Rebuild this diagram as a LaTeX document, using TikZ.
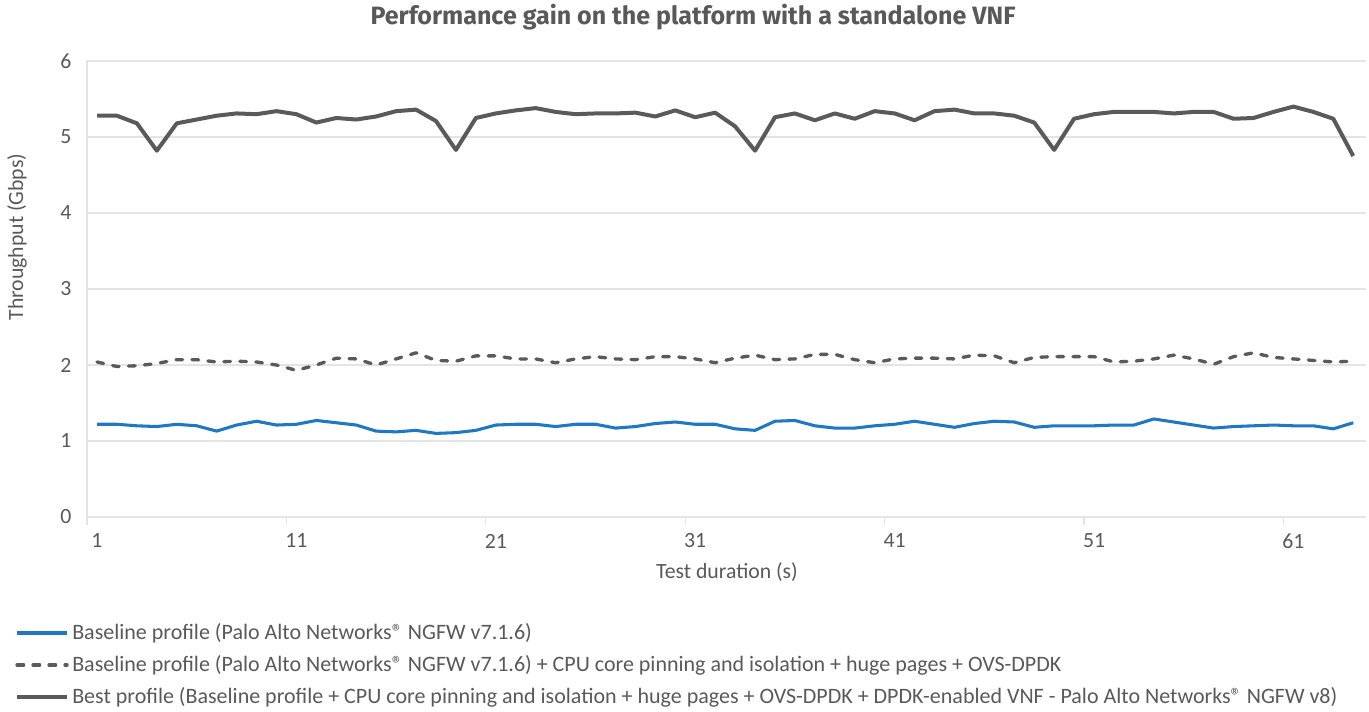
\documentclass[tikz,border=0pt]{standalone}
\usepackage{fontspec}
\setmainfont{Carlito}
\newfontfamily\headfont{Fira Sans}
\definecolor{textgray}{HTML}{595959}
\definecolor{gridgray}{HTML}{E4E4E4}
\definecolor{baseblue}{HTML}{1F78C4}
\definecolor{darkline}{HTML}{5A5A5A}
\begin{document}
\begin{tikzpicture}[x=0.75pt,y=-0.75pt,
  axtext/.style={text=textgray,inner sep=0pt,font=\fontsize{16.3}{18}\selectfont},
  legtext/.style={text=textgray,inner sep=0pt,anchor=west,font=\fontsize{16.5}{18}\selectfont},
  gridline/.style={draw=gridgray,line width=0.8pt},
  baseline/.style={draw=baseblue,line width=2.3pt,line join=round},
  tuned/.style={draw=darkline,line width=2.5pt,line join=round,line cap=round,dash pattern=on 5pt off 7pt},
  best/.style={draw=darkline,line width=3pt,line join=round}]
  \useasboundingbox (0,0) rectangle (1369,712);
  % texts
  \node[text=textgray,font=\headfont\bfseries\fontsize{18.8}{20}\selectfont] at(693,17)(title){Performance gain on the platform with a standalone VNF};
  \node[axtext,rotate=90] at(17,237)(ytitle){Throughput (Gbps)};
  \node[axtext] at(727,572)(xtitle){Test duration (s)};
  % grid and axes
  \foreach \v in {1,...,6}
    \draw[gridline] (87,517-76*\v) -- (1366,517-76*\v);
  \draw[gridline] (87,61) -- (87,517);
  \draw[gridline] (87,517) -- (1366,517);
  \foreach \v in {0,...,6}
    \node[axtext] at(66,517-76*\v)(ylbl\v){\v};
  \foreach \k [evaluate=\k as \n using int(10*\k+1)] in {0,...,6}{
    \draw[gridline] (87+199.4*\k,517) -- (87+199.4*\k,525);
    \node[axtext] at(97+199.4*\k,541)(xlbl\k){\n};
  }
  % data lines
  \begin{scope}[shift={(97,517)},xscale=19.94,yscale=76]
    \draw[baseline] (0,-1.22) \foreach \v [count=\i] in {1.22,1.20,1.19,1.22,1.20,1.13,1.21,1.26,1.21,1.22,1.27,1.24,1.21,1.13,1.12,1.14,1.10,1.11,1.14,1.21,1.22,1.22,1.19,1.22,1.22,1.17,1.19,1.23,1.25,1.22,1.22,1.16,1.14,1.26,1.27,1.20,1.17,1.17,1.20,1.22,1.26,1.22,1.18,1.23,1.26,1.25,1.18,1.20,1.20,1.20,1.21,1.21,1.29,1.25,1.21,1.17,1.19,1.20,1.21,1.20,1.20,1.16,1.24}{ -- (\i,-\v) };
    \draw[tuned] (0,-2.04) \foreach \v [count=\i] in {1.98,1.99,2.02,2.07,2.07,2.04,2.05,2.04,2.00,1.93,2.00,2.09,2.08,2.00,2.08,2.16,2.06,2.05,2.12,2.12,2.08,2.08,2.03,2.08,2.11,2.08,2.07,2.11,2.11,2.08,2.03,2.09,2.13,2.07,2.08,2.14,2.14,2.07,2.03,2.08,2.09,2.09,2.08,2.13,2.12,2.03,2.10,2.11,2.11,2.11,2.04,2.05,2.08,2.13,2.08,2.01,2.11,2.16,2.10,2.08,2.06,2.04,2.05}{ -- (\i,-\v) };
    \draw[best] (0,-5.28) \foreach \v [count=\i] in {5.28,5.18,4.82,5.18,5.23,5.28,5.31,5.30,5.34,5.30,5.19,5.25,5.23,5.27,5.34,5.36,5.21,4.83,5.25,5.31,5.35,5.38,5.33,5.30,5.31,5.31,5.32,5.27,5.35,5.26,5.32,5.14,4.82,5.26,5.31,5.22,5.31,5.24,5.34,5.31,5.22,5.34,5.36,5.31,5.31,5.28,5.19,4.83,5.24,5.30,5.33,5.33,5.33,5.31,5.33,5.33,5.24,5.25,5.33,5.40,5.33,5.24,4.75}{ -- (\i,-\v) };
  \end{scope}
  % legend
  \coordinate (k1a) at (17,633); \coordinate (k1b) at (67,633);
  \coordinate (k2a) at (17,665); \coordinate (k2b) at (67,665);
  \coordinate (k3a) at (17,697); \coordinate (k3b) at (67,697);
  \draw[baseline] (k1a) -- (k1b);
  \draw[tuned] (k2a) -- (k2b);
  \draw[best] (k3a) -- (k3b);
  \node[legtext] at(72,633)(leg1){Baseline profile (Palo Alto Networks® NGFW v7.1.6)};
  \node[legtext] at(72,665)(leg2){Baseline profile (Palo Alto Networks® NGFW v7.1.6) + CPU core pinning and isolation + huge pages + OVS-DPDK};
  \node[legtext] at(72,697)(leg3){Best profile (Baseline profile + CPU core pinning and isolation + huge pages + OVS-DPDK + DPDK-enabled VNF - Palo Alto Networks® NGFW v8)};
\end{tikzpicture}
\end{document}
